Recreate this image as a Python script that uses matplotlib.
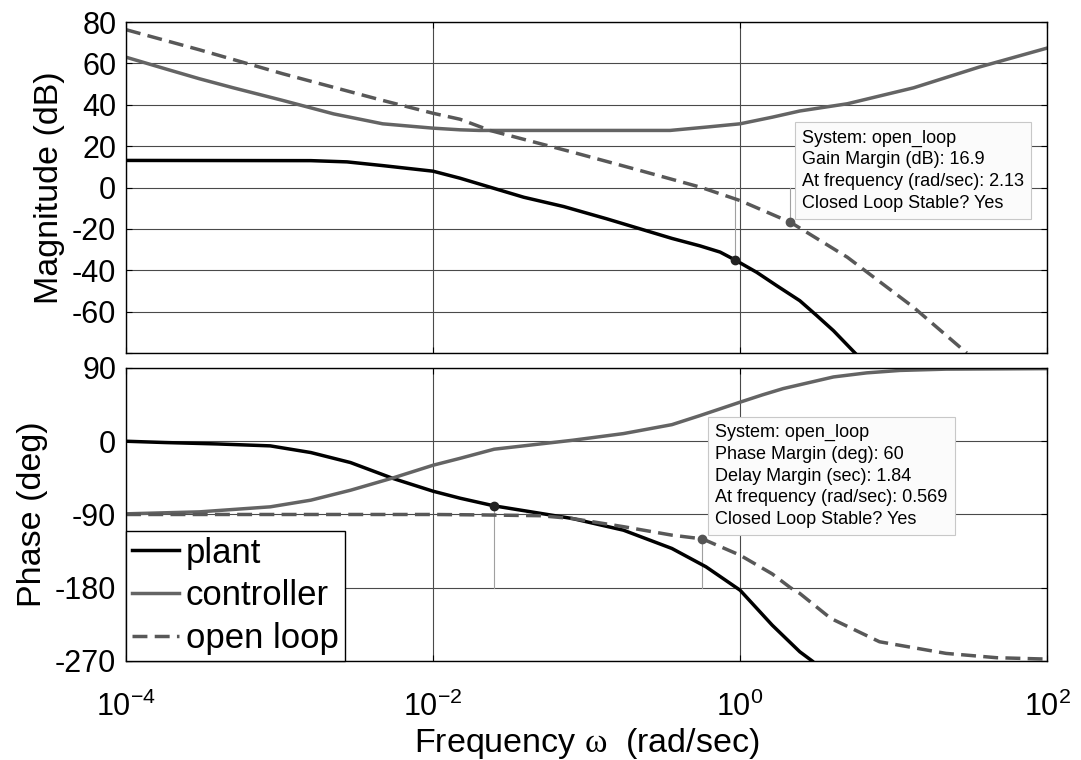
import matplotlib
matplotlib.use("Agg")
import matplotlib.pyplot as plt
import matplotlib.ticker as ticker

plt.rcParams['font.family'] = ['Liberation Sans', 'DejaVu Sans']
plt.rcParams['mathtext.fontset'] = 'custom'
plt.rcParams['mathtext.rm'] = 'Liberation Sans'
plt.rcParams['mathtext.it'] = 'Liberation Serif'

# magnitude (dB)
plant_mag_w = [1e-4, 1.6e-3, 2.75e-3, 4.7e-3, 1e-2, 1.5e-2, 3.9e-2, 7.1e-2, 0.135, 0.36, 0.548, 0.741, 0.927, 1.285, 1.73, 2.45, 3.16, 4.06, 5.61]
plant_mag = [13.1, 13.0, 12.4, 10.6, 7.9, 4.5, -4.7, -9.2, -15.1, -24.6, -28.2, -31.2, -35.0, -41.0, -47.4, -54.7, -61.9, -69.2, -80.0]

ctrl_mag_w = [1e-4, 1.8e-4, 3e-4, 5e-4, 1.05e-3, 2.25e-3, 4.7e-3, 1e-2, 1.5e-2, 2e-2, 0.35, 0.6, 1.0, 1.62, 2.45, 5.0, 13.5, 36.0, 100.0]
ctrl_mag = [63.0, 57.4, 52.6, 48.2, 42.1, 35.6, 30.8, 28.7, 27.9, 27.6, 27.6, 29.2, 30.8, 34.0, 37.0, 40.5, 48.2, 58.2, 67.4]

ol_mag_w = [1e-4, 3e-4, 1.05e-3, 4.7e-3, 1e-2, 1.5e-2, 2.35e-2, 8.1e-2, 0.224, 0.55, 1.0, 2.13, 5.0, 13.5, 30.0]
ol_mag = [76.3, 66.6, 55.0, 42.1, 35.9, 33.0, 27.6, 17.1, 8.2, 0.2, -6.3, -16.8, -33.7, -57.9, -80.0]

# phase (deg)
plant_ph_w = [1e-4, 1.8e-4, 3.9e-4, 8.7e-4, 1.6e-3, 2.9e-3, 5.5e-3, 1e-2, 1.5e-2, 2.5e-2, 8.1e-2, 0.174, 0.36, 0.6, 1.0, 1.62, 2.45, 2.95]
plant_ph = [0.0, -1.6, -3.3, -5.7, -13.9, -26.2, -45.8, -61.4, -70.0, -79.4, -95.0, -109.3, -131.8, -154.3, -183.0, -226.0, -258.7, -270.0]

ctrl_ph_w = [1e-4, 3e-4, 8.7e-4, 1.6e-3, 2.9e-3, 5.5e-3, 1e-2, 1.5e-2, 2.5e-2, 8.1e-2, 0.174, 0.36, 0.548, 1.0, 1.4, 1.91, 4.06, 6.68, 11.0, 22.0, 100.0]
ctrl_ph = [-89.2, -86.8, -80.6, -72.4, -60.2, -45.0, -29.5, -21.0, -9.8, 1.2, 9.4, 20.4, 31.5, 48.0, 57.0, 64.7, 79.0, 84.0, 87.0, 88.6, 89.2]

ol_ph_w = [1e-4, 1e-2, 2e-2, 5e-2, 8.1e-2, 0.174, 0.36, 0.569, 1.0, 1.62, 2.13, 2.45, 3.9, 8.1, 22.0, 47.0, 100.0]
ol_ph = [-90.0, -90.0, -90.5, -91.5, -95.0, -105.0, -115.4, -120.0, -140.0, -163.0, -180.0, -187.0, -217.7, -246.4, -260.7, -266.0, -267.7]

# margin markers
gm_w = [0.927, 2.13]
gm_db = [-35.0, -16.9]
pm_w = [0.0251, 0.569]
pm_deg = [-79.4, -120.0]

mag_ticks = [-80, -60, -40, -20, 0, 20, 40, 60, 80]
mag_labels = ['', '-60', '-40', '-20', '0', '20', '40', '60', '80']
ph_ticks = [-270, -180, -90, 0, 90]
ph_labels = ['-270', '-180', '-90', '0', '90']
x_ticks = [1e-4, 1e-2, 1e0, 1e2]
x_labels = [r'$\mathdefault{10^{-4}}$', r'$\mathdefault{10^{-2}}$', r'$\mathdefault{10^{0}}$', r'$\mathdefault{10^{2}}$']

gm_text = "System: open_loop\nGain Margin (dB): 16.9\nAt frequency (rad/sec): 2.13\nClosed Loop Stable? Yes"
pm_text = "System: open_loop\nPhase Margin (deg): 60\nDelay Margin (sec): 1.84\nAt frequency (rad/sec): 0.569\nClosed Loop Stable? Yes"

c_plant = 'black'
c_ctrl = '#646464'
c_ol = '#585858'
lw = 2.5

fig = plt.figure(figsize=(10.81, 7.6), dpi=100)
ax_mag = fig.add_axes([0.1166, 0.5355, 0.852, 0.4355])
ax_ph = fig.add_axes([0.1166, 0.1303, 0.852, 0.3855])

ax_mag.plot(plant_mag_w, plant_mag, color=c_plant, lw=lw)
ax_mag.plot(ctrl_mag_w, ctrl_mag, color=c_ctrl, lw=lw)
ax_mag.plot(ol_mag_w, ol_mag, color=c_ol, lw=lw, dashes=(4.3, 2.1))

ax_ph.plot(plant_ph_w, plant_ph, color=c_plant, lw=lw, label='plant')
ax_ph.plot(ctrl_ph_w, ctrl_ph, color=c_ctrl, lw=lw, label='controller')
ax_ph.plot(ol_ph_w, ol_ph, color=c_ol, lw=lw, dashes=(4.3, 2.1), label='open loop')

# margin guide lines and dots
for w, v, c in zip(gm_w, gm_db, ['#222222', '#555555']):
    ax_mag.plot([w, w], [0, v], color='#a0a0a0', lw=0.8, zorder=1.8)
    ax_mag.plot(w, v, 'o', color=c, ms=6, zorder=3)
for w, v, c in zip(pm_w, pm_deg, ['#222222', '#555555']):
    ax_ph.plot([w, w], [-180, v], color='#a0a0a0', lw=0.8, zorder=1.8)
    ax_ph.plot(w, v, 'o', color=c, ms=6, zorder=3)

box = dict(boxstyle='square,pad=0.4', fc='#fbfbfb', ec='#c8c8c8', lw=0.8)
ax_mag.text(2.535, 28.0, gm_text, fontsize=13, va='top', ha='left', linespacing=1.36, bbox=box, zorder=5)
ax_ph.text(0.687, 21.0, pm_text, fontsize=13, va='top', ha='left', linespacing=1.36, bbox=box, zorder=5)

for ax in (ax_mag, ax_ph):
    ax.set_xscale('log')
    ax.set_xlim(1e-4, 1e2)
    ax.set_xticks(x_ticks)
    ax.xaxis.set_minor_locator(ticker.NullLocator())
    ax.grid(True, color='#4a4a4a', lw=0.8)
    ax.tick_params(direction='in', top=True, right=True, length=4, width=0.8, labelsize=22, pad=7)
    for s in ax.spines.values():
        s.set_linewidth(1.0)

ax_mag.set_ylim(-80, 80)
ax_mag.set_yticks(mag_ticks)
ax_mag.set_yticklabels(mag_labels)
ax_mag.set_xticklabels([])
ax_mag.set_ylabel('Magnitude (dB)', fontsize=24.5, labelpad=5)

ax_ph.set_ylim(-270, 90)
ax_ph.set_yticks(ph_ticks)
ax_ph.set_yticklabels(ph_labels)
ax_ph.set_xticklabels(x_labels)
ax_ph.tick_params(axis='x', pad=22)
ax_ph.set_ylabel('Phase (deg)', fontsize=24.5, labelpad=5)
ax_ph.set_xlabel(r'Frequency $\omega$  (rad/sec)', fontsize=24.5, labelpad=2)

leg = ax_ph.legend(loc='lower left', borderaxespad=0, fancybox=False, edgecolor='black',
                   framealpha=1, fontsize=25, handlelength=1.35, handletextpad=0.2,
                   borderpad=0.17, labelspacing=0.28)
leg.get_frame().set_linewidth(1.0)

fig.savefig('out.png', dpi=100)
